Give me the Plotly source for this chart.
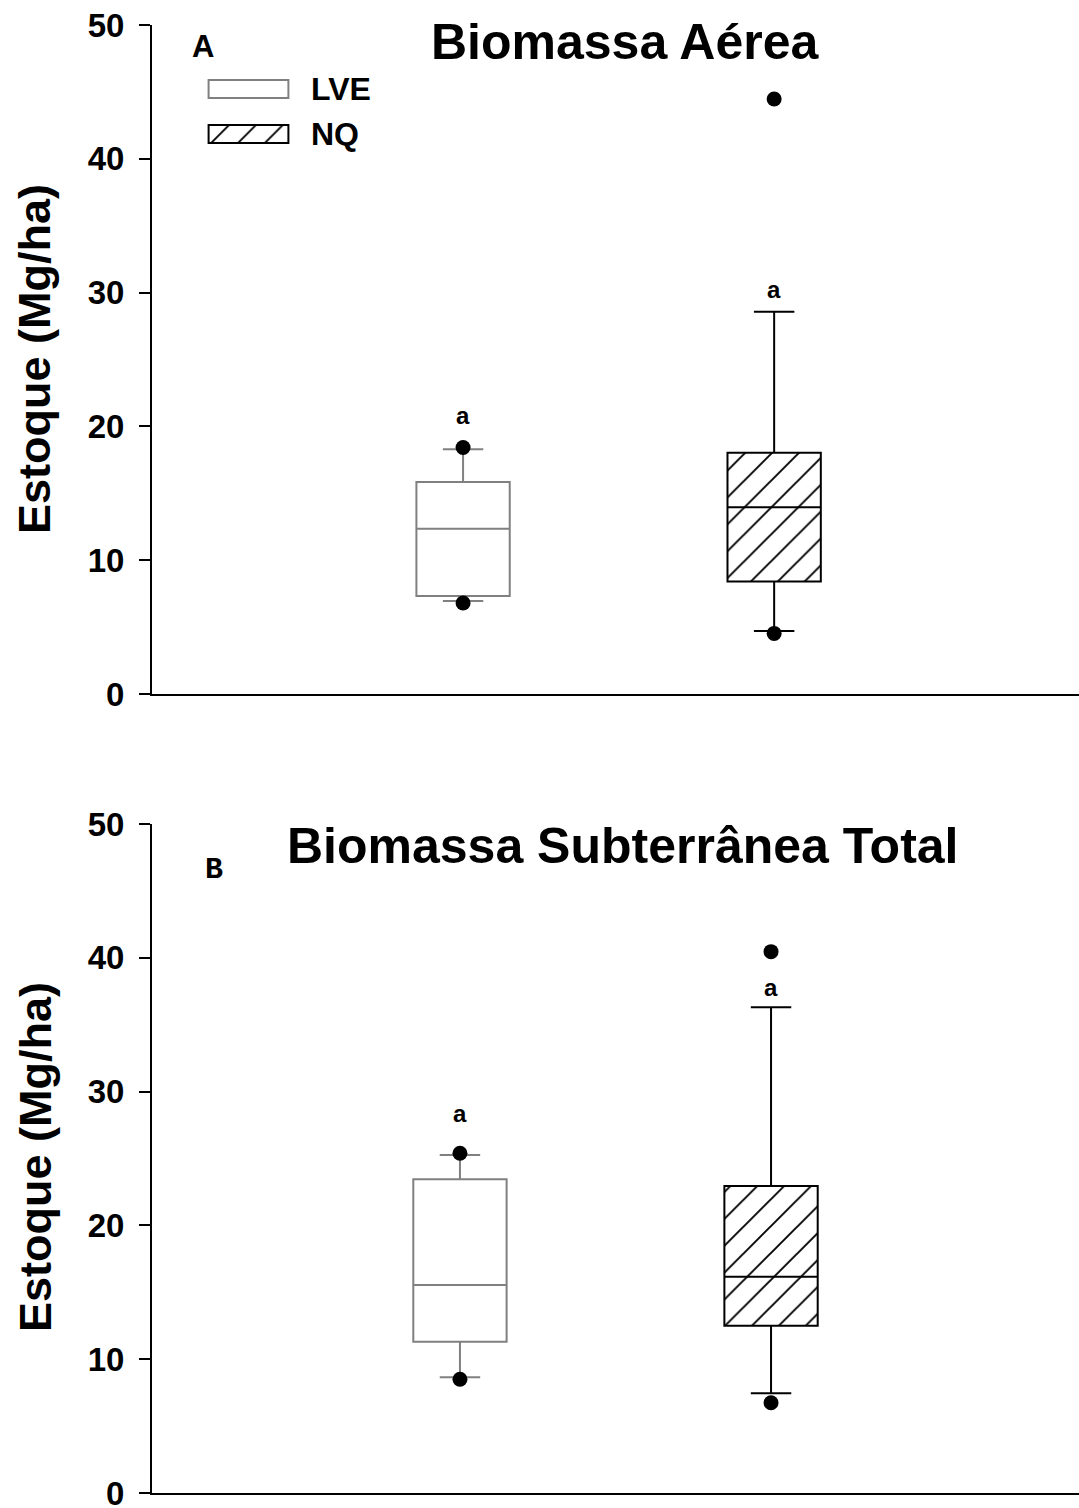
import plotly.graph_objects as go

# ---------------- data ----------------
categories = ["LVE", "NQ"]

# Panel A - Biomassa Aérea
a_lower = [6.95, 4.70]
a_q1 = [7.32, 8.40]
a_median = [12.35, 13.95]
a_q3 = [15.85, 18.03]
a_upper = [18.30, 28.57]
a_outliers = [[6.80, 18.42], [4.53, 44.47]]
a_sig = ["a", "a"]
a_sig_y = [20.8, 30.2]

# Panel B - Biomassa Subterrânea Total
b_lower = [8.65, 7.45]
b_q1 = [11.31, 12.50]
b_median = [15.55, 16.17]
b_q3 = [23.45, 22.94]
b_upper = [25.26, 36.30]
b_outliers = [[8.50, 25.39], [6.75, 40.46]]
b_sig = ["a", "a"]
b_sig_y = [28.4, 37.8]

yticks = [0, 10, 20, 30, 40, 50]
titles = ["Biomassa Aérea", "Biomassa Subterrânea Total"]
panel_letters = ["A", "B"]
y_title = "Estoque (Mg/ha)"

# ---------------- styles ----------------
W, H = 1079, 1508
ML = 152
PW = W - ML
BOX_W = 0.30
CAP_HW = 0.065
line_colors = ["#808080", "#000000"]
FONT = "Liberation Sans, Arial, sans-serif"
HATCH = dict(shape="/", fgcolor="black", bgcolor="white", size=19, solidity=0.1)

def py(px):
    return 1 - px / H

def pxx(px):
    return (px - ML) / PW

fig = go.Figure()

panels = [
    dict(lower=a_lower, q1=a_q1, med=a_median, q3=a_q3, upper=a_upper,
         out=a_outliers, sig=a_sig, sig_y=a_sig_y, xa="x", ya="y"),
    dict(lower=b_lower, q1=b_q1, med=b_median, q3=b_q3, upper=b_upper,
         out=b_outliers, sig=b_sig, sig_y=b_sig_y, xa="x2", ya="y2"),
]

annotations = []
for p in panels:
    for i, cat in enumerate(categories):
        xc = i + 1
        col = line_colors[i]
        if i == 1:
            marker = dict(color="white", pattern=HATCH, line=dict(color=col, width=2))
        else:
            marker = dict(color="white", line=dict(color=col, width=2))
        fig.add_trace(go.Bar(x=[xc], y=[p["q3"][i] - p["q1"][i]], base=[p["q1"][i]],
                             width=BOX_W, marker=marker, xaxis=p["xa"], yaxis=p["ya"],
                             showlegend=False, hoverinfo="skip"))
        # median, whiskers, caps
        xs = [xc - BOX_W / 2, xc + BOX_W / 2, None,
              xc, xc, None, xc, xc, None,
              xc - CAP_HW, xc + CAP_HW, None, xc - CAP_HW, xc + CAP_HW]
        ys = [p["med"][i], p["med"][i], None,
              p["q3"][i], p["upper"][i], None, p["q1"][i], p["lower"][i], None,
              p["upper"][i], p["upper"][i], None, p["lower"][i], p["lower"][i]]
        fig.add_trace(go.Scatter(x=xs, y=ys, mode="lines",
                                 line=dict(color=col, width=2),
                                 xaxis=p["xa"], yaxis=p["ya"], showlegend=False,
                                 hoverinfo="skip", cliponaxis=False))
        fig.add_trace(go.Scatter(x=[xc] * len(p["out"][i]), y=p["out"][i], mode="markers",
                                 marker=dict(color="black", size=15),
                                 xaxis=p["xa"], yaxis=p["ya"], showlegend=False,
                                 hoverinfo="skip", cliponaxis=False))
        annotations.append(dict(x=xc, y=p["sig_y"][i], xref=p["xa"], yref=p["ya"],
                                xanchor="center", yanchor="middle",
                                text="<b>%s</b>" % p["sig"][i], showarrow=False,
                                font=dict(family=FONT, size=24, color="black")))

# legend swatches on a small helper axis
fig.add_trace(go.Bar(y=[1], x=[1], base=[0], orientation="h", width=0.4,
                     marker=dict(color="white", line=dict(color=line_colors[0], width=2)),
                     xaxis="x3", yaxis="y3", showlegend=False, hoverinfo="skip"))
fig.add_trace(go.Bar(y=[0], x=[1], base=[0], orientation="h", width=0.4,
                     marker=dict(color="white", pattern=HATCH,
                                 line=dict(color=line_colors[1], width=2)),
                     xaxis="x3", yaxis="y3", showlegend=False, hoverinfo="skip"))
for lbl, ypx in zip(categories, [89, 134]):
    annotations.append(dict(x=pxx(309), y=py(ypx), xref="paper", yref="paper",
                            xanchor="left", yanchor="middle", showarrow=False,
                            text="<b>%s</b>" % lbl,
                            font=dict(family=FONT, size=32, color="black")))

# titles, panel letters, y titles
for t, ypx, xpx in zip(titles, [42, 846], [625, 623]):
    annotations.append(dict(x=pxx(xpx), y=py(ypx), xref="paper", yref="paper",
                            xanchor="center", yanchor="middle", showarrow=False,
                            text="<b>%s</b>" % t,
                            font=dict(family=FONT, size=50, color="black")))
annotations.append(dict(x=pxx(203), y=py(47), xref="paper", yref="paper",
                        xanchor="center", yanchor="middle",
                        showarrow=False, text="<b>%s</b>" % panel_letters[0],
                        font=dict(family=FONT, size=31, color="black")))
annotations.append(dict(x=pxx(214), y=py(870), xref="paper", yref="paper",
                        xanchor="center", yanchor="middle",
                        showarrow=False, text="<b>%s</b>" % panel_letters[1],
                        font=dict(family="Liberation Mono, Courier New, monospace",
                                  size=30, color="black")))
for ypx in [359, 1157]:
    annotations.append(dict(x=pxx(35), y=py(ypx), xref="paper", yref="paper",
                            xanchor="center", yanchor="middle",
                            showarrow=False, textangle=-90, text="<b>%s</b>" % y_title,
                            font=dict(family=FONT, size=45, color="black")))

yax = dict(range=[0, 50], tickvals=yticks, ticks="outside", ticklen=11, tickwidth=2,
           tickcolor="black", showline=True, linecolor="black", linewidth=2,
           showgrid=False, zeroline=False, ticklabelstandoff=8,
           ticklabeloverflow="allow",
           tickfont=dict(family=FONT, size=33, color="black", weight="bold"))
xax = dict(showline=True, linecolor="black", linewidth=2, showgrid=False,
           zeroline=False, showticklabels=False, ticks="")

fig.update_layout(
    width=W, height=H, template="none",
    margin=dict(l=ML, r=0, t=0, b=0),
    paper_bgcolor="white", plot_bgcolor="rgba(0,0,0,0)",
    barmode="overlay",
    xaxis=dict(xax, domain=[0, 1], range=[0, 2.98], anchor="y"),
    yaxis=dict(yax, domain=[py(694), py(25)], anchor="x"),
    xaxis2=dict(xax, domain=[0, 1], range=[0.01, 2.99], anchor="y2"),
    yaxis2=dict(yax, domain=[py(1493), py(824)], anchor="x2"),
    xaxis3=dict(domain=[pxx(207), pxx(290)], range=[-0.02, 1.02], visible=False,
                anchor="y3", fixedrange=True),
    yaxis3=dict(domain=[py(156.5), py(66.5)], range=[-0.5, 1.5], visible=False,
                anchor="x3", fixedrange=True),
    annotations=annotations,
    font=dict(family=FONT),
)

fig.write_html("out.html")
